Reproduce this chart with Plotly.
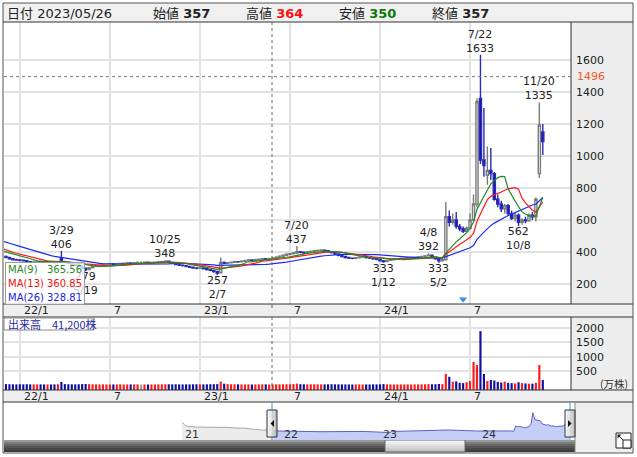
import plotly.graph_objects as go
import pandas as pd

W, H = 637, 457
def fx(px): return px / W
def fy(py): return 1 - py / H

# ---------------- data (weekly, volume in 万株) ----------------
pre_start = "2021-01-04"
pre_close = [820, 700, 640, 610, 590, 600, 580, 570, 560, 575, 590, 570, 560,
             555, 565, 560, 550, 545, 540, 560, 550, 540, 545, 550, 540, 530,
             525, 520, 530, 515, 510, 505, 515, 500, 490, 465, 450, 435, 430,
             425, 415, 410, 405, 410, 405, 400, 405, 395]

start = "2021-12-06"
opens = [372, 366, 358, 352,
         350, 348, 345, 340, 336, 338, 340, 337, 335, 338, 336, 334, 360,
         340, 335, 330, 324, 318, 310, 298, 290, 302, 310, 315, 318, 320,
         322, 325, 322, 326, 328, 330, 332, 330, 333, 335, 335, 336, 333,
         334, 336, 338, 340, 342, 335, 330, 322, 318, 315, 310, 305, 300,
         298, 300, 295, 290, 285, 278, 270, 335, 330, 333, 336, 340, 338,
         342, 346, 350, 348, 352, 355, 358, 356, 357, 362, 368, 374, 380,
         386, 390, 394, 402, 398, 395, 400, 404, 408, 410, 412, 408, 402,
         396, 388, 380, 372, 366, 362, 360, 364, 368, 370, 366, 362, 358,
         354, 345, 340, 348, 352, 356, 358, 360, 362, 365, 366, 368, 370,
         372, 376, 380, 368, 358, 345, 352, 620, 585, 600, 560, 545, 530,
         548, 600, 700, 1360, 975, 880, 910, 890, 730, 700, 670, 690, 640,
         610, 630, 585, 600, 595, 630, 620, 890, 1150]
highs = [378, 370, 362, 358,
         355, 352, 348, 344, 345, 346, 344, 341, 343, 342, 340, 346, 406,
         345, 340, 334, 328, 322, 314, 302, 306, 315, 320, 322, 325, 327,
         330, 328, 331, 333, 335, 337, 336, 338, 340, 340, 341, 339, 339,
         341, 343, 345, 348, 344, 338, 334, 326, 322, 318, 314, 309, 304,
         306, 304, 299, 294, 289, 282, 365, 340, 338, 341, 346, 344, 348,
         352, 356, 354, 358, 360, 363, 362, 364, 368, 374, 380, 386, 392,
         396, 400, 437, 406, 402, 406, 410, 414, 416, 418, 416, 412, 406,
         400, 392, 384, 376, 370, 366, 369, 373, 375, 374, 370, 366, 362,
         358, 350, 353, 357, 361, 363, 365, 367, 370, 372, 373, 375, 377,
         382, 392, 384, 372, 362, 358, 712, 660, 640, 650, 575, 560, 560,
         640, 760, 1360, 1633, 1300, 1060, 1050, 900, 760, 720, 700, 700,
         660, 650, 640, 610, 620, 640, 650, 740, 1335, 1200]
lows = [362, 355, 348, 345,
        342, 340, 334, 330, 332, 334, 332, 330, 331, 330, 328, 331, 336,
        330, 325, 318, 312, 305, 292, 279, 286, 298, 306, 311, 314, 316,
        318, 318, 319, 322, 324, 326, 325, 327, 329, 330, 330, 328, 329,
        330, 332, 334, 336, 330, 325, 318, 313, 309, 305, 300, 295, 292,
        294, 290, 285, 280, 270, 257, 268, 325, 326, 328, 332, 333, 334,
        338, 342, 343, 344, 348, 350, 350, 350, 352, 358, 363, 369, 375,
        380, 384, 388, 392, 388, 390, 395, 399, 402, 404, 402, 396, 390,
        382, 374, 366, 360, 356, 354, 355, 359, 363, 360, 356, 352, 348,
        340, 333, 336, 344, 347, 351, 353, 355, 357, 360, 361, 363, 365,
        368, 372, 364, 352, 333, 340, 350, 560, 570, 545, 530, 518, 520,
        540, 590, 680, 950, 870, 820, 850, 720, 680, 650, 640, 630, 600,
        590, 562, 570, 580, 590, 600, 590, 862, 1006]
closes = [366, 358, 352, 350,
          348, 345, 340, 336, 338, 340, 337, 335, 338, 336, 334, 340, 342,
          335, 330, 324, 318, 310, 298, 290, 302, 310, 315, 318, 320, 322,
          325, 322, 326, 328, 330, 332, 330, 333, 335, 335, 336, 333, 334,
          336, 338, 340, 342, 335, 330, 322, 318, 315, 310, 305, 300, 298,
          300, 295, 290, 285, 278, 268, 335, 330, 333, 336, 340, 338, 342,
          346, 350, 348, 352, 355, 358, 356, 357, 362, 368, 374, 380, 386,
          390, 394, 402, 398, 395, 400, 404, 408, 410, 412, 408, 402, 396,
          388, 380, 372, 366, 362, 360, 364, 368, 370, 366, 362, 358, 354,
          345, 340, 348, 352, 356, 358, 360, 362, 365, 366, 368, 370, 372,
          376, 380, 368, 358, 345, 352, 620, 585, 600, 560, 545, 530, 548,
          600, 700, 1340, 975, 940, 910, 890, 730, 700, 670, 690, 640, 610,
          630, 585, 600, 595, 630, 620, 730, 1194, 1090]
volumes = [45, 40, 38, 35,
           40, 38, 42, 36, 35, 34, 36, 33, 35, 33, 35, 40, 120,
           45, 40, 38, 36, 40, 45, 50, 42, 38, 35, 34, 36, 33,
           32, 34, 33, 35, 33, 32, 34, 33, 35, 32, 33, 31, 34,
           33, 35, 36, 40, 38, 36, 38, 35, 34, 36, 35, 38, 40,
           36, 35, 38, 40, 42, 45, 130, 60, 45, 40, 38, 36, 35,
           34, 36, 33, 35, 34, 35, 36, 30, 33, 36, 38, 40, 42,
           40, 45, 60, 42, 38, 36, 38, 40, 37, 35, 36, 38, 40,
           38, 36, 35, 34, 33, 32, 34, 35, 33, 34, 33, 35, 36,
           38, 45, 36, 34, 33, 32, 34, 33, 35, 33, 35, 34, 36,
           38, 45, 40, 42, 50, 45, 400, 300, 130, 140, 90, 80, 110,
           150, 820, 710, 1890, 400, 150, 190, 170, 120, 100, 130, 90, 80,
           70, 110, 80, 70, 60, 60, 90, 710, 190]

price_ticks = [200, 400, 600, 800, 1000, 1200, 1400, 1600]
vol_ticks = [500, 1000, 1500, 2000]
month_ticks = ["2022-01-03", "2022-07-04", "2023-01-02", "2023-07-03", "2024-01-01", "2024-07-01"]
month_labels = ["22/1", "7", "23/1", "7", "24/1", "7"]
year_ticks = ["2021-01-04", "2022-01-03", "2023-01-02", "2024-01-01"]
year_labels = ["21", "22", "23", "24"]

marks = [  # (date, price, text, above)
    ("2022-03-28", 406, "3/29<br>406", True),
    ("2022-10-24", 348, "10/25<br>348", True),
    ("2022-05-16", 279, "279<br>5/19", False),
    ("2023-02-06", 257, "257<br>2/7", False),
    ("2023-07-17", 437, "7/20<br>437", True),
    ("2024-01-08", 333, "333<br>1/12", False),
    ("2024-04-08", 392, "4/8<br>392", True),
    ("2024-04-29", 333, "333<br>5/2", False),
    ("2024-07-22", 1633, "7/22<br>1633", True),
    ("2024-10-07", 562, "562<br>10/8", False),
    ("2024-11-18", 1335, "11/20<br>1335", True),
]

# ---------------- derived ----------------
pre_dates = pd.date_range(pre_start, periods=len(pre_close), freq="7D")
dates = pd.date_range(start, periods=len(closes), freq="7D")
all_dates = pre_dates.append(dates)
all_close = pd.Series(pre_close + closes, index=all_dates)
ma9 = all_close.rolling(9, min_periods=1).mean()
ma13 = all_close.rolling(13, min_periods=1).mean()
ma26 = all_close.rolling(26, min_periods=1).mean()

vol_colors = ["#ff1a1a" if cl > op else ("#1010a0" if cl < op else "#a0a0a0")
              for op, cl in zip(opens, closes)]

FONT = "DejaVu Sans"
JP = "Noto Sans CJK JP"

fig = go.Figure()

fig.add_trace(go.Scatter(x=all_dates, y=ma26, mode="lines", line=dict(color="#1c2cf0", width=1.2),
                         xaxis="x", yaxis="y", hoverinfo="skip"))
fig.add_trace(go.Scatter(x=all_dates, y=ma13, mode="lines", line=dict(color="#ff1a1a", width=1.2),
                         xaxis="x", yaxis="y", hoverinfo="skip"))
fig.add_trace(go.Scatter(x=all_dates, y=ma9, mode="lines", line=dict(color="#1f8a1f", width=1.2),
                         xaxis="x", yaxis="y", hoverinfo="skip"))
fig.add_trace(go.Candlestick(x=dates, open=opens, high=highs, low=lows, close=closes,
                             increasing=dict(line=dict(color="#7a7a7a", width=1.4), fillcolor="white"),
                             decreasing=dict(line=dict(color="#2a2ab8", width=1.4), fillcolor="#1414a0"),
                             whiskerwidth=0, xaxis="x", yaxis="y", hoverinfo="skip"))
fig.add_trace(go.Scatter(x=["2024-06-17"], y=[105], mode="markers",
                         marker=dict(symbol="triangle-down", size=7, color="#3a8ee8"),
                         xaxis="x", yaxis="y", hoverinfo="skip"))
fig.add_trace(go.Bar(x=dates, y=[v + 160 for v in volumes], base=-160, marker_color=vol_colors,
                     marker_line_width=0, xaxis="x2", yaxis="y2", hoverinfo="skip"))

split = len(pre_close)
nav_pre_x = list(all_dates[:split + 1])
nav_pre_y = list(all_close.values[:split + 1])
nav_x = list(all_dates[split:])
nav_y = list(all_close.values[split:])
NAV_BASE = -130
fig.add_trace(go.Scatter(x=[nav_pre_x[0], nav_pre_x[-1]], y=[NAV_BASE, NAV_BASE], mode="lines",
                         line=dict(width=0), xaxis="x3", yaxis="y3", hoverinfo="skip"))
fig.add_trace(go.Scatter(x=nav_pre_x, y=nav_pre_y, mode="lines", fill="tonexty", fillcolor="#ececec",
                         line=dict(color="#a8a8a8", width=1), xaxis="x3", yaxis="y3", hoverinfo="skip"))
fig.add_trace(go.Scatter(x=[nav_x[0], nav_x[-1]], y=[NAV_BASE, NAV_BASE], mode="lines",
                         line=dict(width=0), xaxis="x3", yaxis="y3", hoverinfo="skip"))
fig.add_trace(go.Scatter(x=nav_x, y=nav_y, mode="lines", fill="tonexty", fillcolor="#c4cdf6",
                         line=dict(color="#5a63c6", width=1), xaxis="x3", yaxis="y3", hoverinfo="skip"))

GRID = "#e2e2e2"
x_range = ["2021-12-02", "2025-01-21"]
PX0, PX1 = 4, 571
PY0, PY1 = 22, 304
VY0, VY1 = 317, 390
NY0, NY1 = 405, 440

fig.update_layout(
    width=W, height=H, margin=dict(l=0, r=0, t=0, b=0, pad=0),
    paper_bgcolor="white", plot_bgcolor="white", showlegend=False,
    bargap=0.38, boxgap=0.12,
    xaxis=dict(domain=[fx(PX0), fx(PX1)], range=x_range, type="date", anchor="y", automargin=False,
               tickvals=month_ticks, showticklabels=False, showgrid=True, gridcolor=GRID, gridwidth=2,
               zeroline=False, showline=False, ticks="", rangeslider=dict(visible=False)),
    yaxis=dict(domain=[fy(PY1), fy(PY0)], range=[75, 1837.5], side="right", anchor="x", automargin=False,
               tickvals=price_ticks, showgrid=True, gridcolor=GRID, gridwidth=2, zeroline=False,
               ticks="", ticklabelstandoff=4, tickfont=dict(family=FONT, size=11, color="#222")),
    xaxis2=dict(domain=[fx(PX0), fx(PX1)], range=x_range, type="date", anchor="y2", automargin=False,
                tickvals=month_ticks, showticklabels=False, showgrid=True, gridcolor=GRID, gridwidth=2,
                zeroline=False, ticks=""),
    yaxis2=dict(domain=[fy(VY1), fy(VY0)], range=[-160, 2382], side="right", anchor="x2", automargin=False,
                tickvals=vol_ticks, showgrid=True, gridcolor=GRID, gridwidth=2, zeroline=False,
                ticks="", ticklabelstandoff=4, tickfont=dict(family=FONT, size=11, color="#222")),
    xaxis3=dict(domain=[fx(PX0), fx(PX1)], range=["2019-03-23", "2024-12-02"], type="date", anchor="y3",
                automargin=False, showticklabels=False, showgrid=False, zeroline=False, ticks=""),
    yaxis3=dict(domain=[fy(NY1), fy(NY0)], range=[NAV_BASE, 1752], showticklabels=False, automargin=False,
                showgrid=False, zeroline=False, ticks=""),
)

shapes = []
def rect(x0, y0, x1, y1, fill=None, line=None, lw=1, layer="below"):
    shapes.append(dict(type="rect", xref="paper", yref="paper", x0=fx(x0), x1=fx(x1), y0=fy(y1), y1=fy(y0),
                       fillcolor=fill or "rgba(0,0,0,0)",
                       line=dict(color=line or "rgba(0,0,0,0)", width=lw if line else 0), layer=layer))
def hline(x0, x1, y, color="#333", w=1, dash=None, layer="above"):
    shapes.append(dict(type="line", xref="paper", yref="paper", x0=fx(x0), x1=fx(x1), y0=fy(y), y1=fy(y),
                       line=dict(color=color, width=w, dash=dash), layer=layer))
def vline(x, y0, y1, color="#333", w=1, dash=None, layer="above"):
    shapes.append(dict(type="line", xref="paper", yref="paper", x0=fx(x), x1=fx(x), y0=fy(y0), y1=fy(y1),
                       line=dict(color=color, width=w, dash=dash), layer=layer))

rect(3, 3, 633, 22, fill="#f0f0f0")
rect(PX1, PY0, 633, PY1, fill="#ededed")
rect(3, PY1, 633, VY0, fill="#eeeeee")
rect(PX1, VY0, 633, VY1, fill="#ededed")
rect(3, VY1, 633, 402, fill="#eeeeee")
rect(575, 402, 633, 453, fill="#eeeeee")
bands = ["#9a9a9a", "#7d7d7d", "#666666", "#555555", "#474747", "#3c3c3c"]
for i, col in enumerate(bands):
    rect(4, 440 + i * 2, 575, 442 + i * 2, fill=col)
thumb = ["#f4f4f4", "#ececec", "#e2e2e2", "#d8d8d8", "#cdcdcd", "#bdbdbd"]
for i, col in enumerate(thumb):
    rect(385, 440 + i * 2, 465, 442 + i * 2, fill=col)
rect(385, 440, 465, 452, line="#666", lw=1)
rect(3, 3, 633, 453, line="#555", lw=1, layer="above")
hline(3, 633, 22)
hline(3, 633, PY1)
hline(3, 633, VY0)
hline(3, 633, VY1)
hline(3, 633, 402)
vline(PX1, PY0, PY1)
vline(PX1, VY0, VY1)
vline(575, 402, 453, color="#888")

vline(272, PY0, PY1, color="#666", dash="dot")
vline(272, VY0, VY1, color="#666", dash="dot")
vline(272, PY1, PY1 + 4, color="#666")
shapes.append(dict(type="line", xref="paper", yref="y", x0=fx(PX0), x1=fx(PX1), y0=1496, y1=1496,
                   line=dict(color="#777", width=1, dash="dot"), layer="above"))

rect(4, 318, 94, 330, fill="white", line="#8a8a8a", lw=1, layer="above")

for hx, left in ((272, True), (570, False)):
    vline(hx, 403, 440, color="#29a0d8", w=1)
    for i, col in enumerate(["#f6f6f6", "#e6e6e6", "#d2d2d2", "#bdbdbd"]):
        rect(hx - 5 + i * 2.5, 410, hx - 5 + (i + 1) * 2.5, 437, fill=col, layer="above")
    rect(hx - 5, 410, hx + 5, 437, line="#333", lw=1, layer="above")
    if left:
        path = f"M {fx(hx+2)} {fy(420)} L {fx(hx+2)} {fy(427)} L {fx(hx-1.5)} {fy(423.5)} Z"
    else:
        path = f"M {fx(hx-2)} {fy(420)} L {fx(hx-2)} {fy(427)} L {fx(hx+1.5)} {fy(423.5)} Z"
    shapes.append(dict(type="path", xref="paper", yref="paper", path=path, fillcolor="#111",
                       line=dict(width=0), layer="above"))
rect(616, 433, 631, 448, fill="white", line="#222", lw=1, layer="above")
rect(623, 440, 631, 448, fill="white", line="#222", lw=1, layer="above")
shapes.append(dict(type="line", xref="paper", yref="paper", x0=fx(618), y0=fy(435), x1=fx(623), y1=fy(440),
                   line=dict(color="#222", width=1), layer="above"))
shapes.append(dict(type="path", xref="paper", yref="paper",
                   path=f"M {fx(617.5)} {fy(434.5)} L {fx(621.5)} {fy(434.5)} L {fx(617.5)} {fy(438.5)} Z",
                   fillcolor="#222", line=dict(width=0), layer="above"))

fig.update_layout(shapes=shapes)

ann = []
def text(x, y, s, color="#222", size=11, family=FONT, xanchor="left", yanchor="middle"):
    ann.append(dict(x=fx(x), y=fy(y), xref="paper", yref="paper", text=s, showarrow=False,
                    xanchor=xanchor, yanchor=yanchor, font=dict(family=family, size=size, color=color)))

hdr = 13
J = "<span style='font-family:Noto Sans CJK JP'>%s</span>"
text(5, 12.5, J % "日付" + " 2023/05/26", size=hdr)
text(151, 12.5, J % "始値" + " <b>357</b>", size=hdr)
text(244, 12.5, J % "高値" + " <b><span style='color:#ff1010'>364</span></b>", size=hdr)
text(337, 12.5, J % "安値" + " <b><span style='color:#0a780a'>350</span></b>", size=hdr)
text(430, 12.5, J % "終値" + " <b>357</b>", size=hdr)

for d, p, s, above in marks:
    ann.append(dict(x=d, y=p, xref="x", yref="y", text=s, showarrow=False,
                    xanchor="center", yanchor="bottom" if above else "top",
                    yshift=-2 if above else 3,
                    font=dict(family=FONT, size=11, color="#222")))

# MA legend box (semi-transparent, drawn over the marks beneath it)
ann.append(dict(x=fx(5), y=fy(262), xref="paper", yref="paper", text=" ", showarrow=False,
                xanchor="left", yanchor="top", width=78, height=41, borderpad=0, borderwidth=1,
                bordercolor="#9a9a9a", bgcolor="rgba(255,255,255,0.75)", font=dict(size=1)))
for i, (lab, val, col) in enumerate([("MA(9)", "365.56", "#2a8a2a"), ("MA(13)", "360.85", "#ee1111"),
                                      ("MA(26)", "328.81", "#2222dd")]):
    text(6, 269 + i * 14, lab, color=col, size=10)
    text(84, 269 + i * 14, val, color=col, size=10, xanchor="right")

ann.append(dict(x=fx(PX1 + 4), y=1496, xref="paper", yref="y", text="1496", showarrow=False,
                xanchor="left", yanchor="middle", font=dict(family=FONT, size=11, color="#f0582a")))

for d, s in zip(month_ticks, month_labels):
    for yy in (310.5, 396.5):
        ann.append(dict(x=d, y=fy(yy), xref="x", yref="paper", text=s, showarrow=False,
                        xanchor="left", yanchor="middle", xshift=2,
                        font=dict(family=FONT, size=11, color="#222")))
for d, s in zip(year_ticks, year_labels):
    ann.append(dict(x=d, y=fy(434), xref="x3", yref="paper", text=s, showarrow=False,
                    xanchor="left", yanchor="middle", xshift=1,
                    font=dict(family=FONT, size=11, color="#333")))

text(6, 324, "出来高　41,200株", color="#2828a8", size=11, family=JP)
text(630, 383, "(万株)", color="#333", size=10.5, family=JP, xanchor="right")

fig.update_layout(annotations=ann)
fig.write_html("out.html", config={"displayModeBar": False},
               post_script="document.body.style.margin='0px';document.body.style.overflow='hidden';")
